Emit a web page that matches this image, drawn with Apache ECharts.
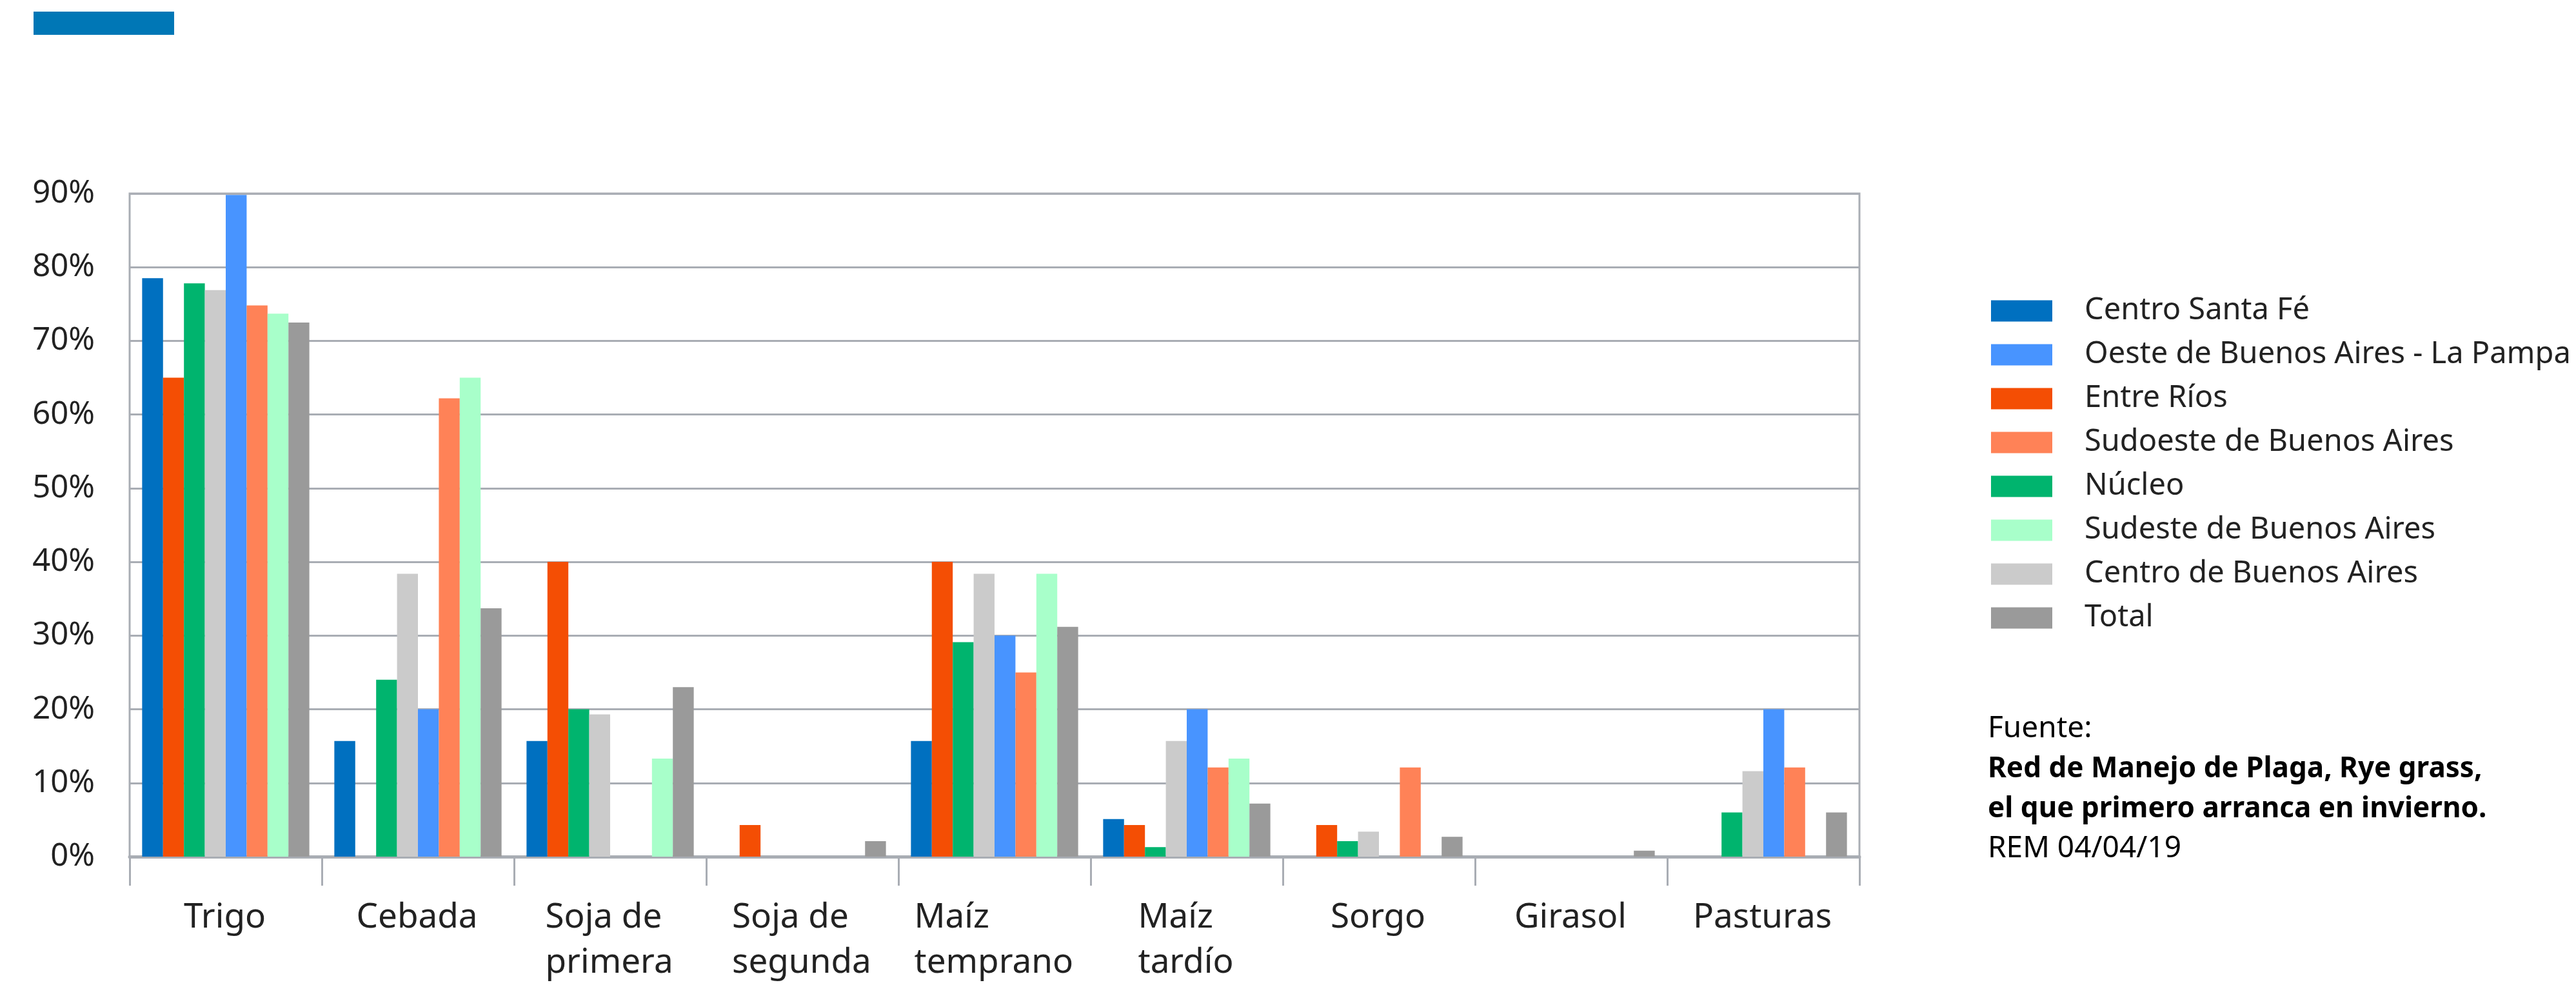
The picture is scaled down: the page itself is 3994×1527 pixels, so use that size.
<!DOCTYPE html>
<html>
<head>
<meta charset="utf-8">
<script src="https://cdn.jsdelivr.net/npm/echarts@6/dist/echarts.min.js"></script>
<style>
  html, body { margin: 0; padding: 0; background: #fff; }
  #chart { width: 3994px; height: 1527px; }
</style>
</head>
<body>
<div id="chart"></div>
<script>
(function () {
  // datos --------------------------------------------------------
  var cultivos = ['Trigo', 'Cebada', 'Soja de\nprimera', 'Soja de\nsegunda', 'Maíz\ntemprano', 'Maíz\ntardío', 'Sorgo', 'Girasol', 'Pasturas'];
  var yTicks = [0, 10, 20, 30, 40, 50, 60, 70, 80, 90];

  var centroSantaFe   = [78.5, 15.7, 15.7, 0,   15.7, 5.1,  0,   0,   0];
  var entreRios       = [65.0, 0,    40.0, 4.3, 40.0, 4.3,  4.3, 0,   0];
  var nucleo          = [77.8, 24.0, 20.0, 0,   29.1, 1.3,  2.1, 0,   6.0];
  var centroBsAs      = [76.9, 38.4, 19.3, 0,   38.4, 15.7, 3.4, 0,   11.6];
  var oesteBsAs       = [89.8, 20.0, 0,    0,   30.0, 20.0, 0,   0,   20.0];
  var sudoesteBsAs    = [74.8, 62.2, 0,    0,   25.0, 12.1, 12.1, 0,  12.1];
  var sudesteBsAs     = [73.7, 65.0, 13.3, 0,   38.4, 13.3, 0,   0,   0];
  var total           = [72.5, 33.7, 23.0, 2.1, 31.2, 7.2,  2.7, 0.8, 6.0];

  // orden de barras dentro de cada grupo
  var barras = [
    { name: 'Centro Santa Fé', color: '#0070C0', data: centroSantaFe },
    { name: 'Entre Ríos', color: '#F44E04', data: entreRios },
    { name: 'Núcleo', color: '#00B46E', data: nucleo },
    { name: 'Centro de Buenos Aires', color: '#CBCBCB', data: centroBsAs },
    { name: 'Oeste de Buenos Aires - La Pampa', color: '#4894FF', data: oesteBsAs },
    { name: 'Sudoeste de Buenos Aires', color: '#FF8257', data: sudoesteBsAs },
    { name: 'Sudeste de Buenos Aires', color: '#A8FFCA', data: sudesteBsAs },
    { name: 'Total', color: '#9A9A9A', data: total }
  ];
  // orden de la leyenda
  var leyenda = ['Centro Santa Fé', 'Oeste de Buenos Aires - La Pampa', 'Entre Ríos', 'Sudoeste de Buenos Aires',
    'Núcleo', 'Sudeste de Buenos Aires', 'Centro de Buenos Aires', 'Total'];

  var fuente = 'Noto Sans';
  var gris = '#A9ADB4';
  var texto = '#222222';

  // etiquetas de varias lineas: bloque centrado, lineas alineadas a la izquierda
  var ctx = document.createElement('canvas').getContext('2d');
  ctx.font = '53px "' + fuente + '"';
  var rich = {};
  cultivos.forEach(function (c, i) {
    var w = 0;
    c.split('\n').forEach(function (s) { w = Math.max(w, ctx.measureText(s).width); });
    rich['c' + i] = { width: Math.ceil(w) + 2, align: 'left', fontSize: 53, fontFamily: fuente, lineHeight: 70, color: texto };
  });

  var series = barras.map(function (b) {
    return {
      name: b.name,
      type: 'bar',
      data: b.data,
      barGap: '0%',
      barCategoryGap: '13%',
      itemStyle: { color: b.color },
      emphasis: { disabled: true }
    };
  });

  var chart = echarts.init(document.getElementById('chart'));
  chart.setOption({
    animation: false,
    backgroundColor: '#ffffff',
    grid: {
      left: 201, right: 1111, top: 300, bottom: 199,
      show: true, borderColor: gris, borderWidth: 3
    },
    legend: {
      data: leyenda,
      orient: 'vertical',
      left: 3082,
      top: 443,
      itemWidth: 95,
      itemHeight: 33,
      itemGap: 0,
      icon: 'rect',
      textStyle: { fontFamily: fuente, fontSize: 47, color: texto, lineHeight: 68, padding: [0, 0, 0, 45] }
    },
    xAxis: {
      type: 'category',
      data: cultivos,
      axisLine: { lineStyle: { color: gris, width: 5 } },
      axisTick: { show: true, length: 45, lineStyle: { color: gris, width: 3 } },
      axisLabel: {
        margin: 60,
        interval: 0,
        formatter: function (v, i) {
          return v.split('\n').map(function (s) { return '{c' + i + '|' + s + '}'; }).join('\n');
        },
        rich: rich
      }
    },
    yAxis: {
      type: 'value',
      min: yTicks[0],
      max: yTicks[yTicks.length - 1],
      interval: 10,
      axisLine: { show: false },
      axisTick: { show: false },
      splitLine: { lineStyle: { color: gris, width: 3 } },
      axisLabel: {
        margin: 54,
        fontFamily: fuente, fontSize: 49, color: texto,
        formatter: '{value}%'
      }
    },
    graphic: [
      { type: 'rect', left: 52, top: 18, shape: { width: 218, height: 36 }, style: { fill: '#0077B6' } },
      {
        type: 'text', left: 3082, top: 1107,
        style: {
          text: '{n|Fuente:}\n{b|Red de Manejo de Plaga, Rye grass,}\n{b|el que primero arranca en invierno.}\n{n|REM 04/04/19}',
          rich: {
            n: { fontFamily: fuente, fontSize: 46, color: texto, lineHeight: 62 },
            b: { fontFamily: fuente, fontSize: 44, fontWeight: 'bold', color: texto, lineHeight: 62 }
          }
        }
      }
    ],
    series: series
  });
})();
</script>
</body>
</html>
